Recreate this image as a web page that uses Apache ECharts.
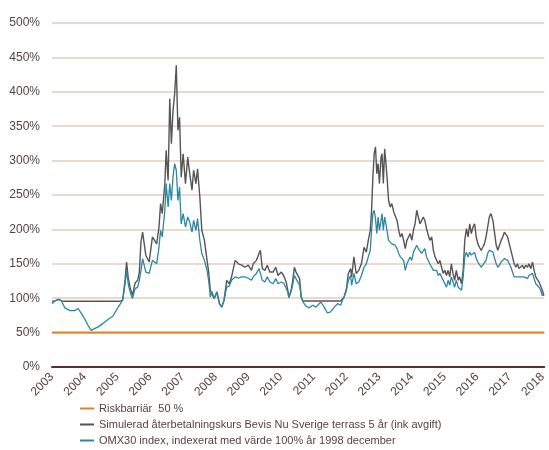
<!DOCTYPE html>
<html>
<head>
<meta charset="utf-8">
<script src="https://cdn.jsdelivr.net/npm/echarts@6/dist/echarts.min.js"></script>
<style>
  html, body { margin: 0; padding: 0; background: #fff; }
  #chart { width: 549px; height: 450px; }
</style>
</head>
<body>
<div id="chart"></div>
<script>
// decimal year of each reading
const dates = [
    2003.00, 2003.09, 2003.21, 2003.29, 2003.39, 2003.55, 2003.70, 2003.80, 2003.90, 2004.00,
    2004.10, 2004.20, 2004.30, 2004.40, 2004.55, 2004.71, 2004.86, 2004.96, 2005.06, 2005.16,
    2005.23, 2005.28, 2005.33, 2005.39, 2005.46, 2005.54, 2005.62, 2005.67, 2005.72, 2005.77,
    2005.87, 2005.97, 2006.07, 2006.20, 2006.27, 2006.32, 2006.37, 2006.45, 2006.49, 2006.55,
    2006.60, 2006.65, 2006.70, 2006.75, 2006.80, 2006.85, 2006.90, 2006.95, 2007.01, 2007.08,
    2007.15, 2007.21, 2007.28, 2007.33, 2007.40, 2007.45, 2007.52, 2007.58, 2007.66, 2007.74,
    2007.79, 2007.84, 2007.89, 2007.96, 2008.04, 2008.12, 2008.19, 2008.26, 2008.34, 2008.42,
    2008.49, 2008.60, 2008.70, 2008.80, 2008.90, 2009.00, 2009.10, 2009.15, 2009.25, 2009.33,
    2009.37, 2009.43, 2009.51, 2009.58, 2009.66, 2009.76, 2009.84, 2009.91, 2010.01, 2010.08,
    2010.16, 2010.21, 2010.24, 2010.31, 2010.36, 2010.41, 2010.46, 2010.52, 2010.57, 2010.62,
    2010.67, 2010.77, 2010.87, 2010.97, 2011.07, 2011.22, 2011.32, 2011.42, 2011.52, 2011.63,
    2011.73, 2011.83, 2011.88, 2011.93, 2012.00, 2012.06, 2012.13, 2012.16, 2012.23, 2012.30,
    2012.38, 2012.46, 2012.54, 2012.61, 2012.67, 2012.73, 2012.77, 2012.81, 2012.85, 2012.89,
    2012.93, 2012.97, 2013.01, 2013.06, 2013.09, 2013.13, 2013.17, 2013.21, 2013.25, 2013.29,
    2013.34, 2013.39, 2013.45, 2013.49, 2013.55, 2013.60, 2013.65, 2013.70, 2013.75, 2013.80,
    2013.85, 2013.90, 2013.95, 2014.00, 2014.05, 2014.10, 2014.15, 2014.20, 2014.25, 2014.30,
    2014.35, 2014.40, 2014.45, 2014.51, 2014.55, 2014.61, 2014.66, 2014.71, 2014.76, 2014.81,
    2014.86, 2014.91, 2014.96, 2015.01, 2015.06, 2015.11, 2015.16, 2015.21, 2015.26, 2015.31,
    2015.36, 2015.42, 2015.46, 2015.52, 2015.57, 2015.62, 2015.67, 2015.72, 2015.77, 2015.82,
    2015.87, 2015.92, 2015.97, 2016.02, 2016.07, 2016.12, 2016.17, 2016.22, 2016.27, 2016.32,
    2016.37, 2016.42, 2016.48, 2016.52, 2016.58, 2016.63, 2016.68, 2016.73, 2016.78, 2016.83,
    2016.88, 2016.93, 2016.98, 2017.03, 2017.08, 2017.13, 2017.18, 2017.23, 2017.28, 2017.33,
    2017.38, 2017.43, 2017.48, 2017.54, 2017.58, 2017.64, 2017.69, 2017.74, 2017.79, 2017.84,
    2017.89, 2017.94, 2017.99, 2018.04
];

// Simulerad återbetalningskurs (%)
const simulerad = [
    95.5, 96, 98.4, 96, 95.5, 95.5, 95.5, 95.5, 95.5, 95.5,
    95.5, 95.5, 95.5, 95.5, 95.5, 95.5, 95.5, 95.5, 95.5, 97,
    125, 152.6, 130, 115, 104, 122, 126, 138, 181.7, 196,
    162, 152.6, 189, 179, 203, 237.5, 223, 266.6, 315, 271,
    390, 324.7, 373, 397, 438.5, 344, 363, 276, 310, 266.6,
    305, 281, 257, 286, 266.6, 288, 247, 198.7, 184, 155,
    138, 111.5, 112, 99.4, 109, 92, 87, 97, 126, 121,
    131, 155, 150, 148, 145, 148, 140.5, 150, 155, 165,
    169.6, 143, 140.5, 148, 138, 138, 145, 133, 138, 133,
    123.5, 111.5, 101, 111.5, 126, 145, 138, 136, 128.5, 101.7,
    96, 96, 96, 96, 96, 96, 96, 96, 96, 96,
    96, 96, 97, 101.7, 113, 136, 143, 131, 160, 136,
    140.5, 150, 174, 167, 184, 198.7, 227.8, 276, 310, 319.8,
    281, 295.6, 266.6, 305, 310, 266.6, 317, 295.6, 271, 242,
    232.6, 237.5, 225, 227.8, 213, 198.7, 189, 194, 184, 172,
    184, 189, 194, 184, 198.7, 208, 227.8, 218, 208, 206,
    218, 213, 201, 203.5, 184, 189, 169.6, 160, 162.6, 150,
    155, 145, 136, 140.5, 133, 140.5, 131, 150, 136, 126,
    140.5, 126, 131, 121, 140.5, 184, 201, 189, 208, 194,
    203.5, 208, 189, 179, 174, 169.6, 174, 179, 189, 203.5,
    218, 223, 213, 198.7, 177, 169.6, 177, 184, 189, 196,
    198.7, 189, 179, 169.6, 160, 150, 145, 150, 143, 145,
    148, 143, 148, 145, 150, 143, 152.6, 140.5, 131, 128.5,
    123.5, 121, 111.5, 104
];

// OMX30 index, indexerat (%)
const omx30 = [
    92, 96, 98.4, 96, 86, 82, 82, 85, 77.6, 70,
    60.6, 53.3, 55.8, 58, 63, 69, 73.7, 82, 89.7, 97,
    118.8, 140.5, 121, 109, 99.4, 114, 116, 126, 140.5, 157.5,
    138, 136, 155, 150, 174, 198.7, 189, 227.8, 266.6, 232.6,
    266.6, 242, 276, 295.6, 286, 242, 261.6, 208, 223, 203.5,
    218, 210.8, 196, 213, 198.7, 215.7, 184, 165, 155, 140.5,
    126, 101.7, 110, 99.4, 109, 92, 87, 97, 116, 118,
    126, 131, 129, 131, 131, 129, 126, 131, 136, 143,
    145, 126, 123.5, 131, 123.5, 121, 128.5, 121, 123.5, 122,
    114, 109, 101, 110, 120, 133, 128.5, 126, 118.8, 101.7,
    94.5, 88, 86, 89.7, 87, 94.5, 87, 78.5, 80, 87,
    92, 89.7, 97, 101.7, 111.5, 126, 133, 118.8, 136, 121,
    123.5, 133, 145, 150, 160, 169.6, 198.7, 223, 227.8, 215.7,
    194, 218, 198.7, 213, 223, 198.7, 218, 208, 196, 184,
    181.7, 179, 181.7, 177, 172, 165, 160, 162.6, 155, 140.5,
    150, 155, 160, 155, 167, 172, 177, 172, 169.6, 165,
    167, 172, 160, 160, 150, 148, 140.5, 138, 140.5, 133,
    136, 131, 126, 123.5, 116, 126, 118.8, 131, 123.5, 116,
    126, 116, 118.8, 111.5, 131, 160, 167, 160, 167, 162.6,
    165, 167, 157.5, 152.6, 150, 145, 148, 150, 155, 165,
    169.6, 172, 167, 160, 150, 145, 148, 152.6, 155, 157.5,
    160, 155, 150, 145, 138, 131, 128.5, 131, 128.5, 131,
    133, 131, 131, 128.5, 133, 131, 136, 128.5, 121, 118.8,
    116, 111.5, 104, 104
];

const riskBarriar = 50;
const xStart = 2003;
const xEnd = 2018.05;

const labelColor = '#5a4040';
const fontFamily = '"Liberation Sans", Arial, sans-serif';

const chart = echarts.init(document.getElementById('chart'));

const option = {
    animation: false,
    grid: {
        left: 52,
        right: 1,
        top: 23,
        bottom: 83
    },
    legend: {
        orient: 'vertical',
        left: 80,
        top: 403,
        height: 60,
        padding: 0,
        itemWidth: 14,
        itemHeight: 2,
        itemGap: 5,
        icon: 'rect',
        textStyle: { color: labelColor, fontSize: 11, fontFamily: fontFamily },
        data: [
            'Riskbarriär  50 %',
            'Simulerad återbetalningskurs Bevis Nu Sverige terrass 5 år (ink avgift)',
            'OMX30 index, indexerat med värde 100% år 1998 december'
        ]
    },
    xAxis: {
        type: 'value',
        min: xStart,
        max: xEnd,
        interval: 1,
        axisLine: { show: true, onZero: false, lineStyle: { color: '#5b2f2f', width: 2 } },
        axisTick: { show: false },
        splitLine: { show: false },
        axisLabel: {
            rotate: 45,
            margin: 8,
            color: labelColor,
            fontSize: 12,
            fontFamily: fontFamily,
            formatter: (v) => Number.isInteger(v) ? String(v) : ''
        }
    },
    yAxis: {
        type: 'value',
        min: 0,
        max: 500,
        interval: 50,
        axisLine: { show: false },
        axisTick: { show: false },
        axisLabel: {
            color: labelColor,
            fontSize: 12,
            fontFamily: fontFamily,
            margin: 12,
            formatter: '{value}%'
        },
        splitLine: { lineStyle: { color: '#e4cdbb', width: 1.5 } }
    },
    series: [
        {
            name: 'Riskbarriär  50 %',
            type: 'line',
            showSymbol: false,
            data: [[xStart, riskBarriar], [xEnd, riskBarriar]],
            itemStyle: { color: '#f07d1c' },
            lineStyle: { color: '#f07d1c', width: 2 }
        },
        {
            name: 'Simulerad återbetalningskurs Bevis Nu Sverige terrass 5 år (ink avgift)',
            type: 'line',
            showSymbol: false,
            data: dates.map((d, i) => [d, simulerad[i]]),
            itemStyle: { color: '#555555' },
            lineStyle: { color: '#555555', width: 1.4 }
        },
        {
            name: 'OMX30 index, indexerat med värde 100% år 1998 december',
            type: 'line',
            showSymbol: false,
            data: dates.map((d, i) => [d, omx30[i]]),
            itemStyle: { color: '#2c88a0' },
            lineStyle: { color: '#2c88a0', width: 1.3 }
        }
    ]
};

chart.setOption(option);
</script>
</body>
</html>
